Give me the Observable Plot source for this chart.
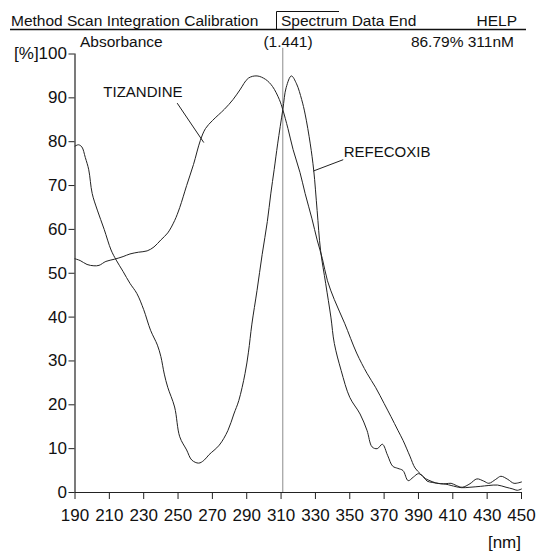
<!DOCTYPE html>
<html><head><meta charset="utf-8">
<script src="https://cdn.jsdelivr.net/npm/d3@7"></script>
<script src="https://cdn.jsdelivr.net/npm/@observablehq/plot@0.6"></script>
<style>
body{margin:0;background:#fff;}
#chart{width:536px;height:552px;}
</style>
</head><body><div id="chart"></div>
<script>
// ---- data ----
const menuItems = ["Method Scan Integration Calibration", "Spectrum Data End", "HELP"];
const modeLabel = "Absorbance";
const cursorValue = "(1.441)";
const cursorReadout = "86.79% 311nM";
const cursorNm = 311;
const xTicks = [190,210,230,250,270,290,310,330,350,370,390,410,430,450];
const yTicks = [0,10,20,30,40,50,60,70,80,90,100];
const xUnit = "[nm]";
const yUnitPrefix = "[%]";

const seriesNames = ["TIZANDINE", "REFECOXIB"];

const tizNm  = [190,193,197,201,204,208,213,218,222,227,232,236,240,244,248,251,255,259,263,266,270,277,282,286,291,296,301,305,309,311,314,317,321,324,328,331,334,337,341,347,354,360,365,370,374,378,381,385,388,391,394,396,400,403,406,409,415,420,426,431,436,441,445,447.5,450];
const tizVal = [53.3,52.9,52.0,51.7,51.8,52.7,53.2,53.8,54.4,54.8,55.1,56.0,57.6,59.2,62.0,65.0,70.0,74.8,80.3,83.0,84.8,87.4,89.6,91.8,94.5,95.0,94.2,92.6,89.6,87.3,83.0,78.2,73.0,68.2,62.4,57.6,53.4,48.3,44.0,38.6,31.8,27.2,24.0,20.3,17.3,14.2,11.9,8.3,5.6,4.3,3.2,2.8,2.2,2.0,1.9,1.6,1.1,1.2,1.4,1.6,1.7,1.2,0.8,0.5,0.8];

const rofNm  = [190,192,194,196,198,200,203,207,211,214,218,222,226,230,234,238,240,242,244,248,251,255,258,262,265,268,274,279,282.5,285.4,289,291,293,296,299,302,304,306,308,311,313,316,319,322,324,327,329,331,333,336,339,341,345,350,356,360,363,366,369,372,375,378,381,384,387,390,393,395,398,403,406,409,412,415.5,420,424,428,431,435,438,442,445.6,450];
const rofVal = [79.0,79.3,78.8,76.4,73.6,68.2,64.4,60.0,55.3,53.0,50.4,47.7,45.4,41.7,37.0,33.6,31.0,27.0,24.0,19.5,12.7,9.7,7.4,6.7,7.3,8.6,10.8,14.1,17.9,21.0,27.1,32.0,38.4,46.1,54.3,61.8,68.1,73.7,79.5,87.3,92.4,95.0,93.2,89.6,86.3,79.5,73.5,64.3,55.2,47.6,40.0,34.0,27.8,21.7,17.9,14.2,10.4,10.0,11.0,8.5,6.0,5.5,5.0,2.7,3.5,4.3,3.5,2.6,2.3,2.0,2.0,2.1,1.6,1.2,2.0,3.1,2.6,2.1,3.0,3.7,3.0,2.1,2.4];

// label positions (data coordinates) and leader lines
const labelNm  = [206.5, 346.5];
const labelVal = [91.2, 77.6];
const leaderFromNm  = [249.5, 346.2];
const leaderFromVal = [88.8, 75.9];
const leaderToNm    = [265, 328.7];
const leaderToVal   = [79.8, 73.3];

// ---- build rows ----
const tizRows = tizNm.map((nm,i)=>({nm, v: tizVal[i]}));
const rofRows = rofNm.map((nm,i)=>({nm, v: rofVal[i]}));
const labelRows = seriesNames.map((name,i)=>({name, nm: labelNm[i], v: labelVal[i]}));
const leaderRows = seriesNames.map((name,i)=>({x1: leaderFromNm[i], y1: leaderFromVal[i], x2: leaderToNm[i], y2: leaderToVal[i]}));

const FONT = "'Liberation Sans', Arial, Helvetica, sans-serif";
const W = 536, H = 552;
const mL = 74.5, mR = 15, mT = 53.5, mB = 60;

const plot = Plot.plot({
  width: W, height: H,
  marginLeft: mL, marginRight: mR, marginTop: mT, marginBottom: mB,
  style: {fontFamily: FONT, background: "#fff", color: "#111"},
  x: {domain: [190, 450], label: null},
  y: {domain: [0, 100], label: null},
  marks: [
    Plot.axisX({ticks: xTicks, tickSize: 7, tickPadding: 9, fontSize: 17, label: null, tickFormat: d => String(d), stroke: "#222"}),
    Plot.axisY({ticks: yTicks, tickSize: 6, tickPadding: 2, fontSize: 17, label: null,
      tickFormat: d => d === 100 ? yUnitPrefix + "100" : String(d), stroke: "#222"}),
    Plot.ruleX([190], {y1: 0, y2: 100, stroke: "#222", strokeWidth: 1.2}),
    Plot.ruleY([0], {stroke: "#222", strokeWidth: 1.2}),
    Plot.ruleX([cursorNm], {y1: 0, y2: 101.3, stroke: "#8c8c8c", strokeWidth: 1}),
    Plot.line(tizRows, {x: "nm", y: "v", curve: "catmull-rom", stroke: "#222", strokeWidth: 1}),
    Plot.line(rofRows, {x: "nm", y: "v", curve: "catmull-rom", stroke: "#222", strokeWidth: 1}),
    Plot.link(leaderRows, {x1: "x1", y1: "y1", x2: "x2", y2: "y2", stroke: "#222", strokeWidth: 1}),
    Plot.text(labelRows, {x: "nm", y: "v", text: "name", textAnchor: "start", fontSize: 15, fill: "#111"})
  ]
});

const svg = d3.select(plot);
const hdr = svg.append("g").attr("font-family", FONT).attr("fill", "#111").attr("text-anchor", "start");
hdr.append("text").attr("x", 11).attr("y", 26).attr("font-size", 15.5).attr("text-anchor", "start").text(menuItems[0]);
hdr.append("text").attr("x", 281).attr("y", 26).attr("font-size", 15.5).attr("text-anchor", "start").text(menuItems[1]);
hdr.append("text").attr("x", 517).attr("y", 26).attr("font-size", 15.5).attr("text-anchor", "end").text(menuItems[2]);
hdr.append("line").attr("x1", 10).attr("x2", 526).attr("y1", 29.5).attr("y2", 29.5).attr("stroke", "#111").attr("stroke-width", 1.3);
hdr.append("path").attr("d", "M276.5,29.5V11.5H339").attr("fill", "none").attr("stroke", "#111").attr("stroke-width", 1);
hdr.append("text").attr("x", 80).attr("y", 47).attr("font-size", 15.5).attr("text-anchor", "start").text(modeLabel);
hdr.append("text").attr("x", 288).attr("y", 47).attr("font-size", 15.5).attr("text-anchor", "middle").text(cursorValue);
hdr.append("text").attr("x", 514).attr("y", 47).attr("font-size", 15.5).attr("text-anchor", "end").text(cursorReadout);
hdr.append("text").attr("x", 521).attr("y", 548).attr("font-size", 17).attr("text-anchor", "end").text(xUnit);

document.getElementById("chart").appendChild(plot);
</script>
</body></html>
